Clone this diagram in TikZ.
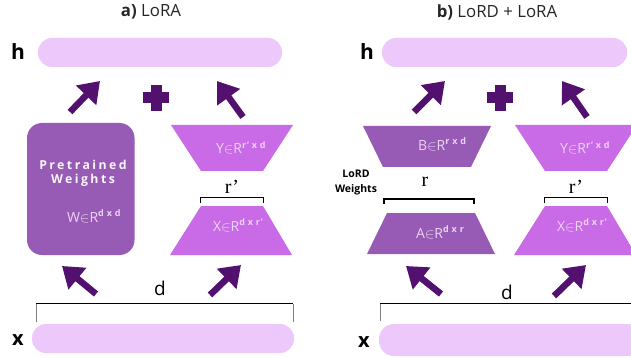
\documentclass[tikz,border=0pt]{standalone}
\usepackage{fontspec}
\setmainfont{Open Sans}
\newfontfamily\serifface{Liberation Serif}
\newfontfamily\widebold[LetterSpace=20,Ligatures=NoCommon]{Open Sans Bold}
\usetikzlibrary{arrows.meta}
\definecolor{barpink}{HTML}{ECC8FB}
\definecolor{lordpurple}{HTML}{975AB5}
\definecolor{lorapink}{HTML}{C96AE6}
\definecolor{arrowpurple}{HTML}{52106F}
\definecolor{inktext}{HTML}{EBD5F5}
\tikzset{
  x=1pt,y=-1pt,
  every node/.style={inner sep=0pt,outer sep=0pt},
  barshape/.style={fill=barpink,rounded corners=14pt},
  bigarrow/.style={draw=arrowpurple,line width=6.5pt,-{Triangle[length=20pt,width=27pt,fill=arrowpurple]},shorten >=0pt},
  lordfill/.style={fill=lordpurple},
  lorafill/.style={fill=lorapink},
  brack/.style={draw=black,line width=1.3pt},
  sidegray/.style={draw=gray,line width=1pt},
  toplabel/.style={font=\fontsize{16.8}{18}\selectfont,text=black!85},
  dimlabel/.style={font=\serifface\fontsize{20}{22}\selectfont,text=black},
  dsans/.style={font=\fontsize{19}{21}\selectfont,text=black},
  rowlabel/.style={font=\bfseries\fontsize{21}{23}\selectfont,text=black},
  rowlabelx/.style={font=\bfseries\fontsize{20}{22}\selectfont,text=black},
  matlabel/.style={font=\fontsize{14}{16}\selectfont,text=inktext,anchor=base west},
  lordlabel/.style={font=\bfseries\fontsize{10.5}{12}\selectfont,text=black},
  plusmark/.style={fill=arrowpurple}
}
\newcommand{\supx}[1]{\raisebox{5.5pt}{\bfseries\addfontfeature{LetterSpace=6}\fontsize{9}{10}\selectfont #1}}
\begin{document}
\begin{tikzpicture}
\useasboundingbox (0,0) rectangle (631,358);
\clip (0,0) rectangle (631,358);
% titles
\node[toplabel] (ta) at (151,12) {\textbf{a)} LoRA};
\node[toplabel] (tb) at (497,12) {\textbf{b)} LoRD + LoRA};
% bars
\fill[barshape] (38,38) rectangle (282,67);
\fill[barshape] (382,38) rectangle (627,67);
\fill[barshape] (32,324) rectangle (294,353);
\fill[rounded corners=15pt,barpink] (379,324) rectangle (642,356);
\node[rowlabel] (ha) at (18,52) {h};
\node[rowlabel] (hb) at (367,52) {h};
\node[rowlabelx] (xa) at (18,340) {x};
\node[rowlabelx] (xb) at (364,342) {x};
% pretrained
\fill[lordfill,rounded corners=15pt] (27,123) rectangle (134.5,255);
\node[font=\widebold\fontsize{12.3}{14}\selectfont,text=white!95!lordpurple] (pt) at (83,164.5) {Pretrained};
\node[font=\widebold\fontsize{12.3}{14}\selectfont,text=white!95!lordpurple] (wg) at (83,180) {Weights};
\node[matlabel] (wm) at (67,222) {W$\in$R\supx{d x d}};
% trapezoids left
\fill[lorafill] (171,125) -- (293,125) -- (263,171) -- (201,171) -- cycle;
\fill[lorafill] (201,206) -- (263,206) -- (292,255) -- (170,255) -- cycle;
\node[matlabel] (ya) at (216,154) {Y$\in$R\supx{r' x d}};
\node[matlabel] (xma) at (213,231) {X$\in$R\supx{d x r'}};
% trapezoids right
\fill[lordfill] (363,126) -- (491,126) -- (471,167) -- (383,167) -- cycle;
\fill[lordfill] (387,213) -- (475,213) -- (495,254) -- (367,254) -- cycle;
\fill[lorafill] (515,125) -- (637,125) -- (607,171) -- (545,171) -- cycle;
\fill[lorafill] (545,206) -- (607,206) -- (636,255) -- (514,255) -- cycle;
\node[matlabel] (bm) at (418,150) {B$\in$R\supx{r x d}};
\node[matlabel] (am) at (416,238) {A$\in$R\supx{d x r}};
\node[matlabel] (yb) at (560,154) {Y$\in$R\supx{r' x d}};
\node[matlabel] (xmb) at (557,231) {X$\in$R\supx{d x r'}};
\node[lordlabel] (lw1) at (356,174) {LoRD};
\node[lordlabel] (lw2) at (356,190) {Weights};
% brackets and dimensions
\draw[brack] (200.5,203) -- (200.5,197.5) -- (263.5,197.5) -- (263.5,203);
\draw[brack] (544.5,203) -- (544.5,197.5) -- (607.5,197.5) -- (607.5,203);
\draw[brack] (384,204) -- (384,199) -- (474,199) -- (474,204);
\node[dimlabel] (ra) at (232,187) {r’};
\node[dimlabel] (rb) at (576,187) {r’};
\node[dimlabel] (rc) at (425,182) {r};
\draw[sidegray] (36,303.5) -- (36,322);
\draw[sidegray] (293,303.5) -- (293,322);
\draw[brack] (36,303.5) -- (293,303.5);
\draw[sidegray] (380,303.5) -- (380,321);
\draw[brack] (380,303.5) -- (631,303.5);
\node[dsans] (da) at (160,288) {d};
\node[dsans] (db) at (507,292) {d};
% plus signs
\foreach \cx/\nm in {156/pa,500/pb}{
  \fill[plusmark] (\cx-13,98-5.5) rectangle (\cx+13,98+5.5);
  \fill[plusmark] (\cx-5.5,98-13) rectangle (\cx+5.5,98+13);
}
% arrow ends
\coordinate (a1s) at (70,112); \coordinate (a1e) at (100,81);
\coordinate (a2s) at (243,117); \coordinate (a2e) at (217,81);
\coordinate (a3s) at (96,294); \coordinate (a3e) at (62,266);
\coordinate (a4s) at (210,295); \coordinate (a4e) at (241,265);
\coordinate (b1s) at (414,112); \coordinate (b1e) at (445,81);
\coordinate (b2s) at (587,117); \coordinate (b2e) at (562,81);
\coordinate (b3s) at (441,294); \coordinate (b3e) at (406,266);
\coordinate (b4s) at (554,296); \coordinate (b4e) at (586,265);
\foreach \p in {a1,a2,a3,a4,b1,b2,b3,b4}{
  \draw[bigarrow] (\p s) -- (\p e);
}
\end{tikzpicture}
\end{document}
